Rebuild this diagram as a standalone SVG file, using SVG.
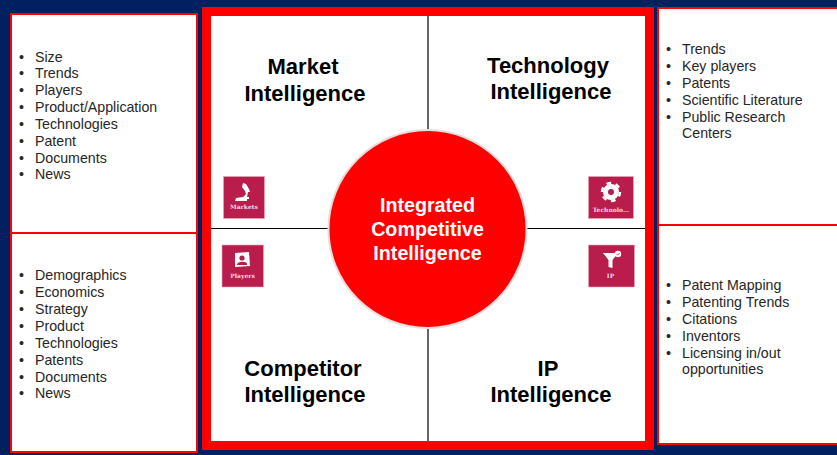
<svg xmlns="http://www.w3.org/2000/svg" width="837" height="455" viewBox="0 0 837 455">
<style>
.f{font-family:"Liberation Sans",Arial,sans-serif}
.li{font-size:14.2px;fill:#262626}
.h{font-size:22px;font-weight:700;fill:#000;text-anchor:middle}
.c{font-size:19.7px;font-weight:700;fill:#fff;text-anchor:middle}
.b{fill:#fff;stroke:#f00;stroke-width:2}
.ln{stroke:#000;stroke-width:1.2;fill:none}
.sq{fill:#b81d4c;stroke:#e8a8bb;stroke-width:.6}
.t{font-family:"DejaVu Serif",serif;font-size:6px;font-weight:700;fill:#f6dce4;text-anchor:middle}
.w{fill:#fff}
</style>
<rect width="837" height="455" fill="#002060"/>
<g id="connectors">
<rect x="206.500" y="11.500" width="443" height="434" fill="#fff" stroke="#f00" stroke-width="9"/>
<path class="ln" d="M428 16V441M211 228.500H645"/>
</g>
<g id="left-top" class="f">
<rect class="b" x="11" y="14" width="186" height="219"/>
<g class="li">
<text x="19" y="62">•</text><text x="35" y="62">Size</text>
<text x="19" y="78">•</text><text x="35" y="78">Trends</text>
<text x="19" y="95">•</text><text x="35" y="95">Players</text>
<text x="19" y="112">•</text><text x="35" y="112">Product/Application</text>
<text x="19" y="129">•</text><text x="35" y="129">Technologies</text>
<text x="19" y="146">•</text><text x="35" y="146">Patent</text>
<text x="19" y="163">•</text><text x="35" y="163">Documents</text>
<text x="19" y="179">•</text><text x="35" y="179">News</text>
</g></g>
<g id="left-bottom" class="f">
<rect class="b" x="11" y="233" width="186" height="219"/>
<g class="li">
<text x="19" y="280">•</text><text x="35" y="280">Demographics</text>
<text x="19" y="297">•</text><text x="35" y="297">Economics</text>
<text x="19" y="314">•</text><text x="35" y="314">Strategy</text>
<text x="19" y="331">•</text><text x="35" y="331">Product</text>
<text x="19" y="348">•</text><text x="35" y="348">Technologies</text>
<text x="19" y="365">•</text><text x="35" y="365">Patents</text>
<text x="19" y="382">•</text><text x="35" y="382">Documents</text>
<text x="19" y="398">•</text><text x="35" y="398">News</text>
</g></g>
<g id="right-top" class="f">
<rect class="b" x="658" y="8" width="181" height="217"/>
<g class="li">
<text x="666" y="54">•</text><text x="682" y="54">Trends</text>
<text x="666" y="71">•</text><text x="682" y="71">Key players</text>
<text x="666" y="88">•</text><text x="682" y="88">Patents</text>
<text x="666" y="105">•</text><text x="682" y="105">Scientific Literature</text>
<text x="666" y="122">•</text><text x="682" y="122">Public Research</text>
<text x="682" y="138">Centers</text>
</g></g>
<g id="right-bottom" class="f">
<rect class="b" x="658" y="225" width="181" height="219"/>
<g class="li">
<text x="666" y="290">•</text><text x="682" y="290">Patent Mapping</text>
<text x="666" y="307">•</text><text x="682" y="307">Patenting Trends</text>
<text x="666" y="324">•</text><text x="682" y="324">Citations</text>
<text x="666" y="341">•</text><text x="682" y="341">Inventors</text>
<text x="666" y="358">•</text><text x="682" y="358">Licensing in/out</text>
<text x="682" y="374">opportunities</text>
</g></g>
<g id="market" class="f"><text class="h" x="303" y="74">Market</text><text class="h" x="305" y="101">Intelligence</text></g>
<g id="technology" class="f"><text class="h" x="548" y="73">Technology</text><text class="h" x="551" y="99">Intelligence</text></g>
<g id="competitor" class="f"><text class="h" x="303" y="376">Competitor</text><text class="h" x="305" y="402">Intelligence</text></g>
<g id="ip" class="f"><text class="h" x="548" y="376">IP</text><text class="h" x="551" y="402">Intelligence</text></g>
<g id="center" class="f">
<circle cx="427.500" cy="229" r="99" fill="#f00" stroke="#e9dcdc" stroke-width="2"/>
<text class="c" x="427.500" y="212">Integrated</text>
<text class="c" x="427.500" y="236">Competitive</text>
<text class="c" x="427.500" y="260">Intelligence</text>
</g>
<g id="icon-markets">
<rect class="sq" x="223.500" y="176.500" width="41" height="42"/>
<path class="w" d="M243 183l3 1 3 5 1 3-2 0-1 5h2v2l-2 0v2h-12l1-3 7-1 3-3-1-3-3-4z"/>
<text class="t" x="244" y="209">Markets</text>
</g>
<g id="icon-players">
<rect class="sq" x="222" y="245" width="41.500" height="42"/>
<path class="w" d="M235 253l14-1 1 14-15 1z"/>
<circle cx="242" cy="258" r="2.600" fill="#b81d4c"/>
<path d="M237 265c0-4 10-4 10-1v1z" fill="#b81d4c"/>
<text class="t" x="242.500" y="278">Players</text>
</g>
<g id="icon-technology">
<rect class="sq" x="588.500" y="176.500" width="45" height="42"/>
<circle cx="611" cy="192" r="5.500" fill="none" stroke="#fff" stroke-width="5"/>
<circle cx="611" cy="192" r="9" fill="none" stroke="#fff" stroke-width="2.500" stroke-dasharray="4.700 4.700"/>
<text class="t" x="611" y="212">Technolo...</text>
</g>
<g id="icon-ip">
<rect class="sq" x="588.500" y="245" width="46" height="42"/>
<path class="w" d="M603 253h15l-5.500 7v8l-4 -1v-7z"/>
<circle cx="618" cy="254" r="3.200" class="w"/>
<path d="M616.500 254l1.200 1.200 2-2.200" fill="none" stroke="#b81d4c" stroke-width=".8"/>
<text class="t" x="610.500" y="278">IP</text>
</g>
</svg>
